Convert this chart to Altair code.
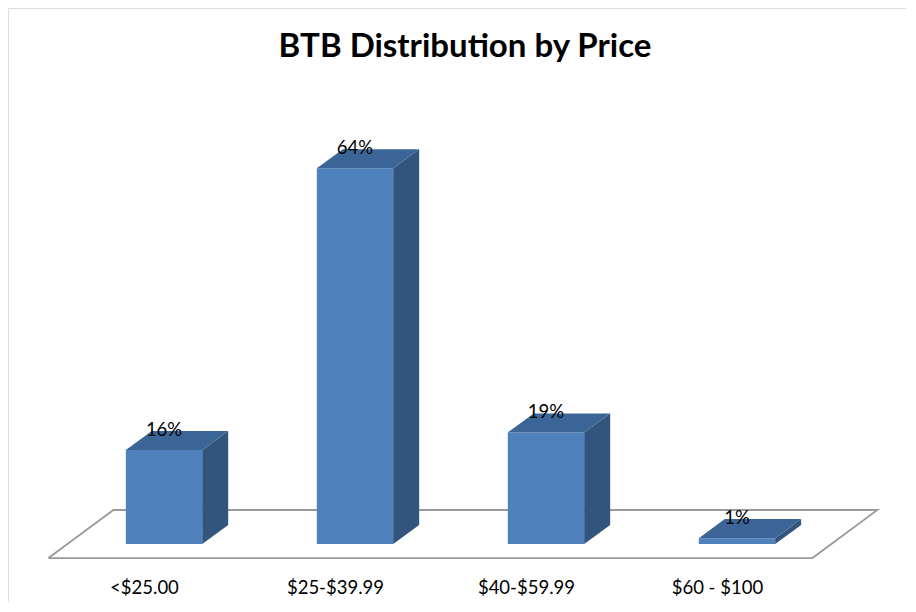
import json
import altair as alt
import pandas as pd

# ---- data ----
categories = ["<$25.00", "$25-$39.99", "$40-$59.99", "$60 - $100"]
values = [16, 64, 19, 1]
value_labels = ["16%", "64%", "19%", "1%"]
title_text = "BTB Distribution by Price"

# ---- style constants (3-D look) ----
BAR_HALF = 0.2      # half bar width, category units
BAR_SHIFT = 0.105   # bars sit a little back on the floor
DEPTH_X = 0.136     # bar depth, x direction (category units)
DEPTH_Y = 3.24      # bar depth, y direction (percent units)
FLOOR_FRONT = -2.39
FLOOR_DX = 0.340
FLOOR_DY = 8.18

FRONT = "#4F81BD"
TOP = "#3C6597"
SIDE = "#33547C"

n = len(categories)
front_rows, side_rows, top_rows, label_rows = [], [], [], []
for i, (c, v, lab) in enumerate(zip(categories, values, value_labels)):
    L = i + BAR_SHIFT - BAR_HALF
    R = i + BAR_SHIFT + BAR_HALF
    front_rows.append(dict(cat=c, x=L, x2=R, y=0, y2=v))
    side_rows += [dict(cat=c, x=R, lo=0, hi=v),
                  dict(cat=c, x=R + DEPTH_X, lo=DEPTH_Y, hi=v + DEPTH_Y)]
    top_rows += [dict(cat=c, x=L, lo=v, hi=v),
                 dict(cat=c, x=L + DEPTH_X, lo=v, hi=v + DEPTH_Y),
                 dict(cat=c, x=R, lo=v, hi=v + DEPTH_Y),
                 dict(cat=c, x=R + DEPTH_X, lo=v + DEPTH_Y, hi=v + DEPTH_Y)]
    label_rows.append(dict(cat=c, x=i + BAR_SHIFT, y=v + DEPTH_Y, t=lab))

floor_df = pd.DataFrame([
    dict(k=0, x=-0.5, y=FLOOR_FRONT),
    dict(k=1, x=n - 0.5, y=FLOOR_FRONT),
    dict(k=2, x=n - 0.5 + FLOOR_DX, y=FLOOR_FRONT + FLOOR_DY),
    dict(k=3, x=-0.5 + FLOOR_DX, y=FLOOR_FRONT + FLOOR_DY),
    dict(k=4, x=-0.5, y=FLOOR_FRONT),
])

W, H = 898, 594
x_scale = alt.Scale(domain=[-0.712, 3.990], nice=False, zero=False)
y_scale = alt.Scale(domain=[-9.88, 91.31], nice=False, zero=False)

label_expr = json.dumps(categories) + "[datum.value]"
x_axis = alt.Axis(values=list(range(n)), labelExpr=label_expr, ticks=False,
                  tickSize=0, domain=False, grid=False, title=None, offset=-15,
                  labelPadding=0, labelBaseline="middle", labelFont="Lato",
                  labelFontSize=18.5, labelColor="#000000", labelAngle=0)

floor = alt.Chart(floor_df).mark_line(color="#9A9A9A", strokeWidth=1.8).encode(
    x=alt.X("x:Q", scale=x_scale, axis=x_axis),
    y=alt.Y("y:Q", scale=y_scale, axis=None),
    order="k:Q",
)

front = alt.Chart(pd.DataFrame(front_rows)).mark_rect(color=FRONT).encode(
    x=alt.X("x:Q", scale=x_scale, axis=x_axis), x2="x2:Q",
    y=alt.Y("y:Q", scale=y_scale, axis=None), y2="y2:Q",
)

side = alt.Chart(pd.DataFrame(side_rows)).mark_area(color=SIDE).encode(
    x=alt.X("x:Q", scale=x_scale, axis=x_axis),
    y=alt.Y("lo:Q", scale=y_scale, axis=None), y2="hi:Q",
    detail="cat:N",
)

top = alt.Chart(pd.DataFrame(top_rows)).mark_area(color=TOP).encode(
    x=alt.X("x:Q", scale=x_scale, axis=x_axis),
    y=alt.Y("lo:Q", scale=y_scale, axis=None), y2="hi:Q",
    detail="cat:N",
)

labels = alt.Chart(pd.DataFrame(label_rows)).mark_text(
    font="Lato", fontSize=18.5, color="#000000", baseline="middle", dy=-1
).encode(
    x=alt.X("x:Q", scale=x_scale, axis=x_axis),
    y=alt.Y("y:Q", scale=y_scale, axis=None),
    text="t:N",
)

title = alt.Chart(pd.DataFrame({"t": [title_text]})).mark_text(
    font="Lato", fontSize=33, fontWeight="bold", color="#000000", baseline="middle"
).encode(
    x=alt.value(457), y=alt.value(39), text="t:N"
)

chart = alt.layer(floor, front, side, top, labels, title).properties(
    width=W, height=H, padding=0
).configure_view(stroke="#888888", strokeWidth=1.2).configure(background="white")

chart.save("out.html", embed_options={"renderer": "svg", "actions": False})
